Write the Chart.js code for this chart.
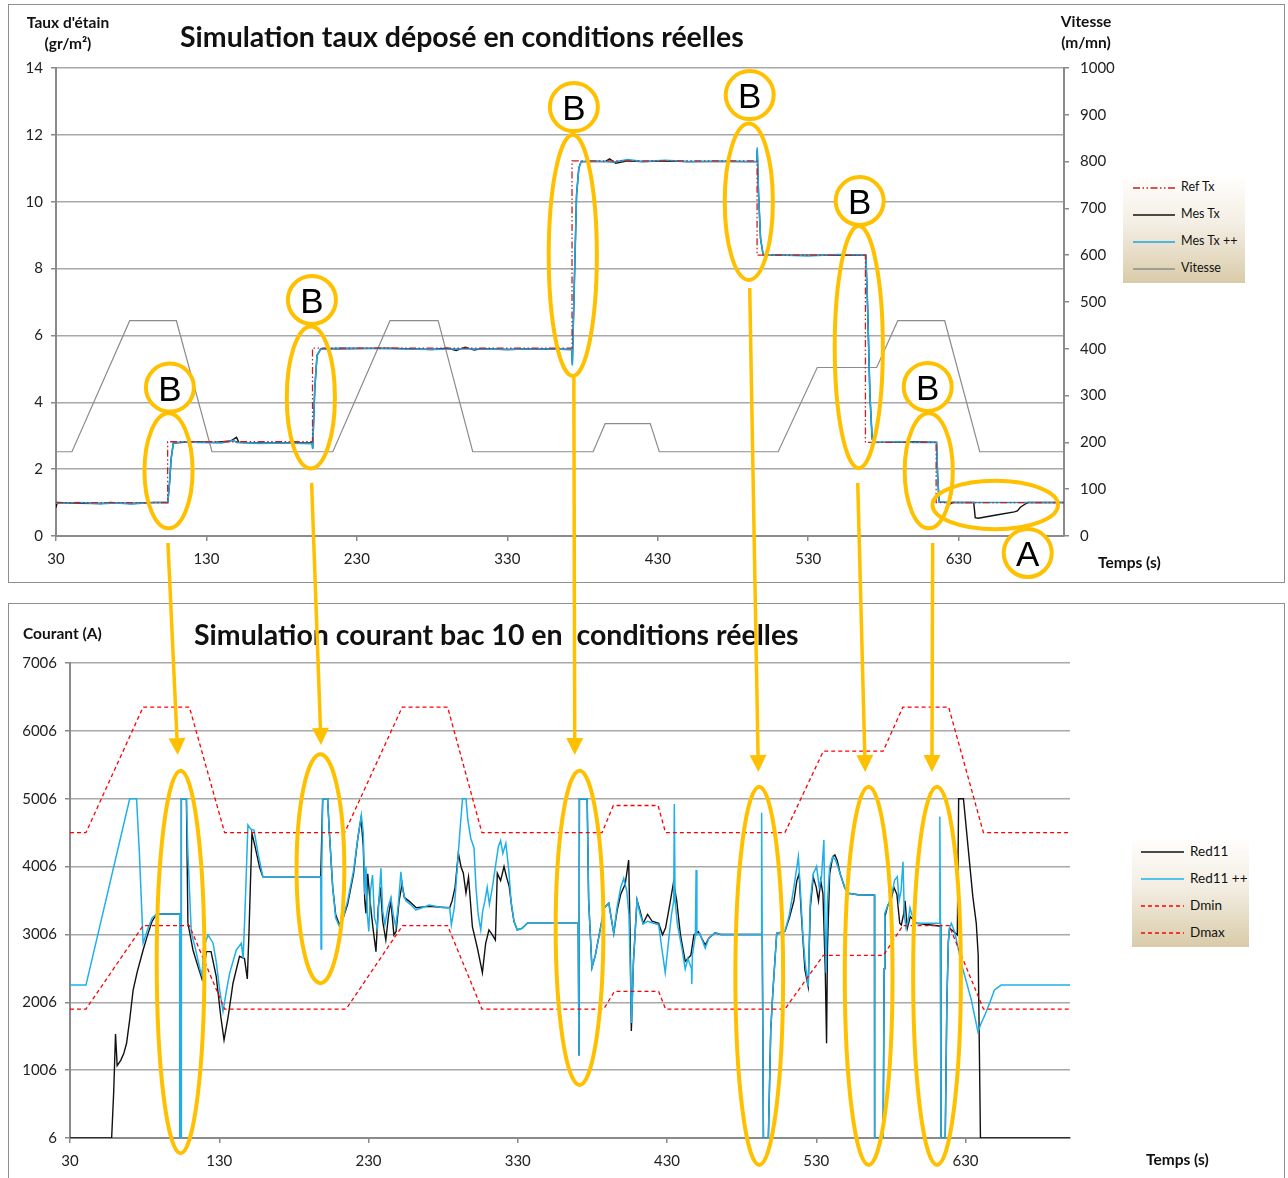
<!DOCTYPE html>
<html lang="fr">
<head>
<meta charset="utf-8">
<title>Simulation taux déposé / courant bac 10</title>
<script src="https://cdn.jsdelivr.net/npm/chart.js@4.4.1/dist/chart.umd.min.js"></script>
<style>
  html, body { margin: 0; padding: 0; background: #fff; }
  body { width: 1288px; height: 1178px; position: relative; overflow: hidden; font-family: Lato, "Liberation Sans", sans-serif; color: #111; }
  .frame { position: absolute; border: 1px solid #8e8e8e; box-sizing: border-box; }
  .txt { position: absolute; white-space: pre; line-height: 1; }
  .title { font-weight: bold; font-size: 28.5px; }
  .axt { font-weight: bold; font-size: 15.5px; text-align: center; }
  canvas.chart { position: absolute; }
  #overlay { position: absolute; left: 0; top: 0; pointer-events: none; }
  .legend { position: absolute; background: linear-gradient(to bottom, #fffefc 0%, #f3eee3 45%, #d9cba9 100%); }
  .legend svg { position: absolute; left: 0; top: 0; }
  .legend span { position: absolute; white-space: pre; line-height: 1; font-size: 12.5px; color: #111; }
  #legendBot span { font-size: 13.5px; }
  .mark { position: absolute; font-family: "Liberation Sans", Arial, sans-serif; font-size: 35px; line-height: 1; width: 40px; text-align: center; color: #000; }
</style>
</head>
<body>

<div class="frame" style="left:8px;top:4px;width:1277px;height:579px"></div>
<div class="frame" style="left:8px;top:603px;width:1277px;height:585px"></div>

<canvas id="topChart" class="chart" width="1276" height="578" style="left:8px;top:4px"></canvas>
<canvas id="botChart" class="chart" width="1276" height="573" style="left:8px;top:603px"></canvas>

<div class="txt title" style="left:180px;top:22px">Simulation taux déposé en conditions réelles</div>
<div class="txt axt" style="left:8px;top:15px;width:120px">Taux d'étain</div>
<div class="txt axt" style="left:8px;top:36px;width:120px">(gr/m²)</div>
<div class="txt axt" style="left:1026px;top:14px;width:120px">Vitesse</div>
<div class="txt axt" style="left:1026px;top:35px;width:120px">(m/mn)</div>
<div class="txt axt" style="left:1098px;top:555px">Temps (s)</div>

<div class="txt title" style="left:194px;top:620px">Simulation courant bac 10 en  conditions réelles</div>
<div class="txt axt" style="left:23px;top:626px">Courant (A)</div>
<div class="txt axt" style="left:1146px;top:1152px">Temps (s)</div>

<div id="legendTop" class="legend" style="left:1123px;top:177px;width:122px;height:106px"></div>
<div id="legendBot" class="legend" style="left:1132px;top:839px;width:117px;height:108px"></div>

<canvas id="overlay" width="1288" height="1178"></canvas>

<script>
// ---------- Simulation taux déposé (haut) ----------
const timeTicks = [30, 130, 230, 330, 430, 530, 630];

// [temps (s), taux (gr/m²)]
const refTx = [[30,1.0],[104.2,1.0],[104.2,2.82],[200.5,2.82],[200.5,5.62],[373,5.62],[373,11.22],[496,11.22],[496,8.4],[568,8.4],[568,2.8],[615,2.8],[615,1.0],[700,1.0]];

const mesTx = [[30,0.85],[30.8,1.0],[45,0.98],[60,0.97],[66,1.0],[80,0.97],[95,1.0],[104.3,1.0],[105.5,1.6],[106.5,2.3],[108,2.78],[115,2.8],[125,2.82],[135,2.8],[146,2.84],[150,2.95],[151.5,2.8],[165,2.78],[180,2.78],[200.3,2.78],[200.6,2.62],[202,4.4],[203.5,5.4],[206,5.6],[220,5.6],[250,5.62],[280,5.58],[290,5.62],[296,5.55],[302,5.65],[308,5.56],[312,5.6],[330,5.58],[350,5.6],[372.8,5.58],[373.2,5.15],[374.5,7.5],[376,10.2],[377.5,11.0],[379,11.2],[395,11.2],[398,11.28],[402,11.15],[410,11.22],[420,11.2],[435,11.22],[450,11.2],[470,11.2],[495.8,11.2],[496.1,11.55],[497,10.2],[498.3,8.9],[500,8.42],[515,8.4],[530,8.4],[550,8.4],[568.3,8.4],[569.5,6.8],[571,4.2],[572.5,2.9],[574,2.8],[590,2.8],[600,2.82],[615.3,2.8],[616,1.8],[617,1.02],[622,1.0],[624,0.95],[626,1.0],[640,1.0],[641,0.55],[643,0.53],[655,0.63],[667,0.72],[669,0.75],[671,0.86],[674,0.95],[676,1.0],[700,1.0]];

const mesTxPlus = [[30,0.98],[45,1.0],[60,0.97],[70,0.99],[80,0.96],[95,1.0],[104.3,1.0],[105.5,1.6],[106.5,2.3],[108,2.78],[115,2.82],[125,2.8],[140,2.78],[148,2.86],[150,2.8],[165,2.77],[180,2.78],[200.3,2.76],[200.6,2.6],[202,4.4],[203.5,5.4],[206,5.6],[220,5.62],[250,5.6],[280,5.58],[300,5.6],[330,5.58],[350,5.6],[372.8,5.58],[373.2,5.1],[374.5,7.5],[376,10.2],[377.5,11.0],[379,11.2],[390,11.22],[400,11.18],[410,11.26],[420,11.2],[435,11.24],[450,11.2],[470,11.22],[495.8,11.2],[496.1,11.62],[497,10.2],[498.3,8.9],[500,8.42],[515,8.4],[530,8.38],[550,8.42],[568.3,8.4],[569.5,6.8],[571,4.2],[572.5,2.9],[574,2.8],[590,2.82],[600,2.8],[615.3,2.8],[616,1.8],[617,1.02],[630,1.0],[660,1.0],[700,1.0]];

// [temps (s), vitesse (m/mn)]
const vitesse = [[30,180],[40.6,180],[79,460],[110,460],[133.7,180],[214,180],[252,460],[284,460],[307,180],[387,180],[395,240],[425,240],[431,180],[510,180],[536,360],[575.5,360],[589.5,460],[620.7,460],[644,180],[700,180]];

// ---------- Simulation courant bac 10 (bas) ----------
const courantTicks = [6, 1006, 2006, 3006, 4006, 5006, 6006, 7006];

// [temps (s), courant (A)]
const red11 = [[30,6],[57.9,6],[59.3,700],[60.5,1539],[61.6,1072],[64,1150],[66,1250],[67.9,1402],[70,1750],[72.3,2187],[75,2450],[79,2777],[82,3000],[85,3200],[88,3307],[103.5,3307],[103.6,6],[104.4,6],[104.6,5006],[108,5006],[109,3170],[112.4,2777],[115.5,2550],[118.5,2345],[121.4,2752],[124.5,2752],[128,2385],[131,1800],[133.2,1450],[136,1800],[139.2,2287],[143.6,2683],[146.9,2650],[148.8,2350],[149.9,3024],[151.9,4496],[154,4300],[157,4000],[159.2,3856],[198,3856],[199.3,5006],[202.6,5006],[203.8,4500],[206,3700],[208,3300],[210.5,3150],[213,3250],[216,3450],[220,3900],[223,4450],[225,4718],[226.5,4300],[227.5,3500],[228.3,3317],[229.5,3900],[231,3500],[233,3100],[235,2752],[236.5,3400],[238,3700],[239.5,3200],[241.6,2924],[243.5,3300],[245,3500],[247,3000],[248.5,3050],[250.5,3500],[252.5,3750],[254,3550],[257,3500],[262,3400],[270,3420],[284.4,3400],[286,3500],[288,3700],[290.2,4203],[292,4000],[293.5,3911],[295.3,3617],[297,3850],[299.6,3120],[303,2800],[306.3,2442],[308.5,2876],[310.7,3072],[313,3000],[315,2924],[316.3,3906],[318.5,3800],[320.8,4006],[322.5,3850],[324.3,3711],[326,3400],[327.5,3196],[329.7,3072],[333,3097],[336.4,3170],[370.5,3170],[371,1220],[371.3,5006],[376.5,5006],[377.5,3500],[379.7,2516],[382,2700],[385,3050],[388,3400],[391,3466],[394.3,3024],[396.5,3350],[399,3600],[402,3750],[404.3,4103],[405.3,3000],[406.1,1583],[407.5,2600],[409.9,3513],[412,3350],[414,3170],[417,3300],[420,3200],[424.4,3170],[427,3000],[429,3100],[431.5,3400],[434.4,3780],[436.5,3500],[439,3000],[442.2,2608],[444,2650],[446,2700],[448,3000],[451,3050],[455.6,2850],[458,2950],[462.2,3030],[466,3006],[493,3006],[493.8,3006],[494.6,6],[497.9,6],[499.5,1600],[501,2187],[503.5,3024],[509,3050],[512,3250],[515,3500],[517,3800],[518.5,3900],[520,3300],[522.4,2482],[524.6,2237],[526,3400],[528,3850],[530,3700],[531.5,3500],[533,3800],[534.5,3600],[536,2500],[536.9,1402],[537.5,2800],[539,3900],[541,4150],[542.5,4177],[544,4100],[546,3900],[549,3700],[551.4,3612],[558,3590],[569,3587],[569.1,6],[574.8,6],[575.5,2500],[576,3270],[578,3440],[580,3500],[582,3700],[584,3600],[585.9,3170],[587,3145],[588.5,3300],[589.5,3500],[591,3097],[593,3268],[597,3170],[612.5,3130],[613.2,3130],[613.5,6],[616.4,6],[617.5,2000],[618.5,2900],[619.3,3100],[622,3050],[624.5,3000],[625.4,5006],[628.6,5006],[634.9,3563],[637.2,3170],[638.5,2700],[640,6],[700,6]];

const red11Plus = [[30,2260],[40.7,2260],[53.4,3450],[70,5006],[74.6,5006],[76.5,4200],[79,2880],[82,3080],[85,3250],[88,3307],[103.5,3307],[103.6,6],[104.4,6],[104.6,5006],[108,5006],[109,4200],[111.3,3024],[114,2800],[116.9,2508],[118.5,2400],[119.6,2825],[122.5,2998],[125.8,2880],[128,2600],[130.3,2187],[132.5,1870],[135,2200],[137,2436],[141.4,2777],[144.8,2876],[146,2650],[147.5,3500],[149.2,4619],[151,4560],[153.3,4540],[156,4200],[159.2,3856],[198,3856],[198.2,2790],[198.6,3856],[199.3,5006],[202.6,5006],[203.8,4500],[206,3700],[208,3250],[210.5,3120],[213,3250],[216,3500],[220,3950],[223,4450],[225.2,4766],[226.5,4500],[227.5,3600],[228.3,4006],[229.2,3300],[230.2,3050],[231.3,3650],[232.7,3882],[234,3250],[236,3100],[237,3500],[238.3,3980],[239.5,3350],[241,3150],[243,3400],[245,3550],[246.5,3300],[248.3,3120],[250,3450],[251.7,3930],[253,3650],[255,3500],[258,3450],[261.7,3366],[266,3400],[270.6,3440],[280,3400],[284.4,3400],[285.5,3145],[287.5,3400],[289.5,4000],[291.5,4600],[293,5006],[295.3,5006],[296.5,4700],[298.5,4424],[300.7,4280],[302,3700],[303.5,3300],[305.2,3072],[306.5,3350],[308,3500],[309.5,3700],[311,3450],[313,3700],[315,4000],[317,4300],[318.5,4388],[320,4200],[322,4350],[324,3950],[325.5,3500],[327.5,3196],[329.7,3072],[333,3097],[336.4,3170],[370.5,3170],[371,1220],[371.3,5006],[376.5,5006],[377.5,3500],[379.7,2516],[382,2700],[385,3050],[388,3400],[391,3466],[394.3,3024],[396.5,3400],[399,3700],[401,3834],[403,3650],[404.5,3300],[405.5,2400],[406.3,1700],[407.5,2600],[409.9,3513],[412,3300],[414,3160],[417,3200],[421,3170],[424.4,3150],[426.5,2800],[428.8,2442],[431,2900],[433,3300],[434.5,3500],[434.9,4928],[435.4,3500],[437,3150],[440,2800],[442.2,2496],[444,2650],[446.4,2500],[446.6,2274],[447,2700],[449,3000],[449.5,3955],[450,3000],[452,3020],[455.6,2802],[458,2950],[462.2,3030],[466,3006],[493,3006],[493.4,4800],[493.8,3006],[494.6,6],[497.9,6],[499.5,1600],[501,2187],[503.5,3024],[509,3050],[512,3300],[515,3700],[518,4153],[519.5,3600],[521,3000],[522.5,2600],[524.6,2237],[526,3500],[528,3900],[530.2,4006],[532,3700],[533.5,3850],[535.1,4398],[535.8,3200],[536.6,2436],[537.5,3500],[539,4000],[541,4150],[543,4100],[546,3900],[549,3700],[551.4,3612],[558,3590],[569,3587],[569.1,6],[574.8,6],[575.5,2500],[575.9,3317],[578.1,3440],[580.3,3563],[582.5,3808],[584.3,3857],[585.5,3500],[586.8,3650],[588.1,4078],[589,3300],[590.2,3100],[591.5,3200],[592.8,3400],[594,3300],[597,3170],[612.5,3170],[612.8,4742],[613.2,3170],[613.5,6],[616.4,6],[617.5,2000],[618.5,2900],[619.3,3100],[620.5,3170],[622.7,3047],[627.2,2580],[633.9,2040],[638.3,1575],[640.5,1697],[643,1820],[646.1,1993],[649.4,2187],[653.9,2260],[700,2260]];

const dmin = [[30,1906],[40.7,1906],[79,3136],[110,3136],[133.6,1906],[215,1906],[252.8,3136],[283,3136],[306,1906],[387.6,1906],[394.8,2166],[424.4,2166],[429,1906],[509,1906],[534.7,2696],[575,2696],[588,3136],[619,3136],[642,1906],[700,1906]];
const dmax = [[30,4506],[40.7,4506],[79,6356],[110,6356],[133.6,4506],[214,4506],[252.6,6356],[283,6356],[306,4506],[386.5,4506],[394,4906],[424,4906],[429,4506],[509,4506],[534.7,5706],[574.8,5706],[588,6356],[618.7,6356],[642,4506],[700,4506]];

// ---------- shared styling ----------
const GRID = "#a8a8a8";
const AXIS = "#8a8a8a";
const TICK_FONT = { family: "Lato", size: 15 };
const ORANGE = "#ffc000";
const plain = (v) => String(v);

function line(label, data, color, width, dash, yAxisID, order) {
  return {
    label, data, yAxisID, order,
    borderColor: color, backgroundColor: color,
    borderWidth: width, borderDash: dash || [],
    pointRadius: 0, tension: 0, fill: false
  };
}

function timeAxis(height) {
  return {
    type: "linear", min: 30, max: 700,
    afterBuildTicks: (s) => { s.ticks = timeTicks.map((v) => ({ value: v })); },
    afterFit: (s) => { s.height = height; },
    grid: { drawOnChartArea: false, drawTicks: true, tickLength: 5, color: AXIS, lineWidth: 1.5 },
    border: { display: true, color: AXIS, width: 2 },
    ticks: { font: TICK_FONT, color: "#222", maxRotation: 0, autoSkip: false, padding: 9, callback: plain }
  };
}

const common = {
  responsive: false, animation: false, devicePixelRatio: 1, events: [],
  plugins: { legend: { display: false }, tooltip: { enabled: false } }
};

// top chart
const topChart = new Chart(document.getElementById("topChart"), {
  type: "line",
  data: {
    datasets: [
      line("Ref Tx", refTx, "#cc1f1f", 1.3, [7, 2.5, 1.5, 2.5, 1.5, 2.5], "y", 1),
      line("Mes Tx", mesTx, "#111111", 1.4, null, "y", 3),
      line("Mes Tx ++", mesTxPlus, "#1aa8e4", 1.6, null, "y", 2),
      line("Vitesse", vitesse, "#8c8c8c", 1.2, null, "y1", 4)
    ]
  },
  options: {
    ...common,
    layout: { padding: { top: 64, left: 0, right: 0, bottom: 0 } },
    scales: {
      x: timeAxis(46),
      y: {
        min: 0, max: 14, ticks: { stepSize: 2, font: TICK_FONT, color: "#222", padding: 8, callback: plain },
        afterFit: (s) => { s.width = 48; },
        grid: { color: GRID, lineWidth: 1.5, tickLength: 5, tickColor: AXIS },
        border: { display: true, color: AXIS, width: 2 }
      },
      y1: {
        position: "right", min: 0, max: 1000,
        ticks: { stepSize: 100, font: TICK_FONT, color: "#222", padding: 11, callback: plain },
        afterFit: (s) => { s.width = 220; },
        grid: { drawOnChartArea: false, tickLength: 5, color: AXIS, lineWidth: 1.5 },
        border: { display: true, color: AXIS, width: 2 }
      }
    }
  }
});

// bottom chart
const botChart = new Chart(document.getElementById("botChart"), {
  type: "line",
  data: {
    datasets: [
      line("Red11", red11, "#111111", 1.4, null, "y", 4),
      line("Red11 ++", red11Plus, "#1eb0ea", 1.5, null, "y", 3),
      line("Dmin", dmin, "#ff0000", 1.3, [4, 3], "y", 2),
      line("Dmax", dmax, "#ff0000", 1.3, [4, 3], "y", 1)
    ]
  },
  options: {
    ...common,
    layout: { padding: { top: 60, left: 0, right: 214, bottom: 0 } },
    scales: {
      x: timeAxis(38),
      y: {
        min: 6, max: 7006,
        afterBuildTicks: (s) => { s.ticks = courantTicks.map((v) => ({ value: v })); },
        afterFit: (s) => { s.width = 62; },
        ticks: { font: TICK_FONT, color: "#222", padding: 8, callback: plain },
        grid: { color: GRID, lineWidth: 1.5, tickLength: 5, tickColor: AXIS },
        border: { display: true, color: AXIS, width: 2 }
      }
    }
  }
});

// legends built from the datasets
function buildLegend(el, chart, rowTop, rowGap, x0, x1) {
  const w = el.clientWidth, h = el.clientHeight;
  const ns = "http://www.w3.org/2000/svg";
  const svg = document.createElementNS(ns, "svg");
  svg.setAttribute("width", w);
  svg.setAttribute("height", h);
  el.appendChild(svg);
  chart.data.datasets.forEach((ds, i) => {
    const y = rowTop + i * rowGap;
    const l = document.createElementNS(ns, "line");
    l.setAttribute("x1", x0); l.setAttribute("x2", x1);
    l.setAttribute("y1", y); l.setAttribute("y2", y);
    l.setAttribute("stroke", ds.borderColor);
    l.setAttribute("stroke-width", 1.6);
    if (ds.borderDash.length) l.setAttribute("stroke-dasharray", ds.borderDash.join(" "));
    svg.appendChild(l);
    const sp = document.createElement("span");
    sp.textContent = ds.label;
    sp.style.left = (x1 + 6) + "px";
    sp.style.top = (y - 7) + "px";
    el.appendChild(sp);
  });
}
buildLegend(document.getElementById("legendTop"), topChart, 11, 27, 10, 52);
buildLegend(document.getElementById("legendBot"), botChart, 13, 27, 9, 52);

// ---------- hand drawn marks (orange ellipses / arrows) ----------
// ellipses: [temps centre, bas, haut] in each chart's own units
const topEllipses = [[104.8, 0.23, 3.67], [199.4, 2.02, 6.27], [373.5, 4.79, 12.0], [490.5, 7.66, 12.34], [563.6, 2.03, 9.27], [610.1, 0.23, 3.67]];
const topLetters = [[105.7, 4.44, "B"], [200.1, 7.06, "B"], [374.2, 12.83, "B"], [491.1, 13.19, "B"], [564.2, 10.02, "B"], [609.4, 4.46, "B"], [675.9, -0.51, "A"]];
const zoneA = [654.3, 0.2, 1.65, 41.7];
const botEllipses = [[104.1, -219, 5419], [197.8, 2287, 5661], [371.4, 787, 5419], [491.8, -392, 5183], [565.1, -392, 5183], [610.9, -392, 5183]];
// arrows: [t top, taux top, t bottom, courant bottom]
const arrows = [[104.4, -0.21, 102.2, 5650], [199.9, 1.59, 198.2, 5798], [374.2, 4.76, 368.2, 5650], [491.1, 7.42, 491.2, 5400], [562.9, 1.59, 562.8, 5400], [612.7, -0.21, 607.5, 5400]];
const HALF_W = 16; // ellipse half width in seconds

function drawOverlay() {
  const ov = document.getElementById("overlay");
  const ctx = ov.getContext("2d");
  const tb = topChart.canvas.getBoundingClientRect();
  const bb = botChart.canvas.getBoundingClientRect();
  const tp = (t, v) => [tb.left + topChart.scales.x.getPixelForValue(t), tb.top + topChart.scales.y.getPixelForValue(v)];
  const bp = (t, v) => [bb.left + botChart.scales.x.getPixelForValue(t), bb.top + botChart.scales.y.getPixelForValue(v)];

  ctx.strokeStyle = ORANGE;
  ctx.fillStyle = ORANGE;
  ctx.lineWidth = 4;

  function ellipse(pt, t, lo, hi, hw) {
    const a = pt(t, lo), b = pt(t, hi), c = pt(t + hw, lo);
    const cx = a[0], cy = (a[1] + b[1]) / 2;
    ctx.beginPath();
    ctx.ellipse(cx, cy, c[0] - a[0], Math.abs(a[1] - b[1]) / 2, 0, 0, Math.PI * 2);
    ctx.stroke();
  }
  topEllipses.forEach((e) => ellipse(tp, e[0], e[1], e[2], HALF_W));
  botEllipses.forEach((e) => ellipse(bp, e[0], e[1], e[2], HALF_W));
  ellipse(tp, zoneA[0], zoneA[1], zoneA[2], zoneA[3]);

  // arrows
  ctx.lineWidth = 3.5;
  arrows.forEach((a) => {
    const s = tp(a[0], a[1]), e = bp(a[2], a[3]);
    const ang = Math.atan2(e[1] - s[1], e[0] - s[0]);
    const head = 17, half = 8.5;
    const bx = e[0] - head * Math.cos(ang), by = e[1] - head * Math.sin(ang);
    ctx.beginPath();
    ctx.moveTo(s[0], s[1]);
    ctx.lineTo(bx, by);
    ctx.stroke();
    ctx.beginPath();
    ctx.moveTo(e[0], e[1]);
    ctx.lineTo(bx + half * Math.sin(ang), by - half * Math.cos(ang));
    ctx.lineTo(bx - half * Math.sin(ang), by + half * Math.cos(ang));
    ctx.closePath();
    ctx.fill();
  });

  // letter circles
  ctx.lineWidth = 4;
  topLetters.forEach((m) => {
    const p = tp(m[0], m[1]);
    ctx.beginPath();
    ctx.arc(p[0], p[1], 24, 0, Math.PI * 2);
    ctx.fillStyle = "#fff";
    ctx.fill();
    ctx.stroke();
    const d = document.createElement("div");
    d.className = "mark";
    d.textContent = m[2];
    d.style.left = (p[0] - 20) + "px";
    d.style.top = (p[1] - 17) + "px";
    document.body.appendChild(d);
  });
}
drawOverlay();
</script>
</body>
